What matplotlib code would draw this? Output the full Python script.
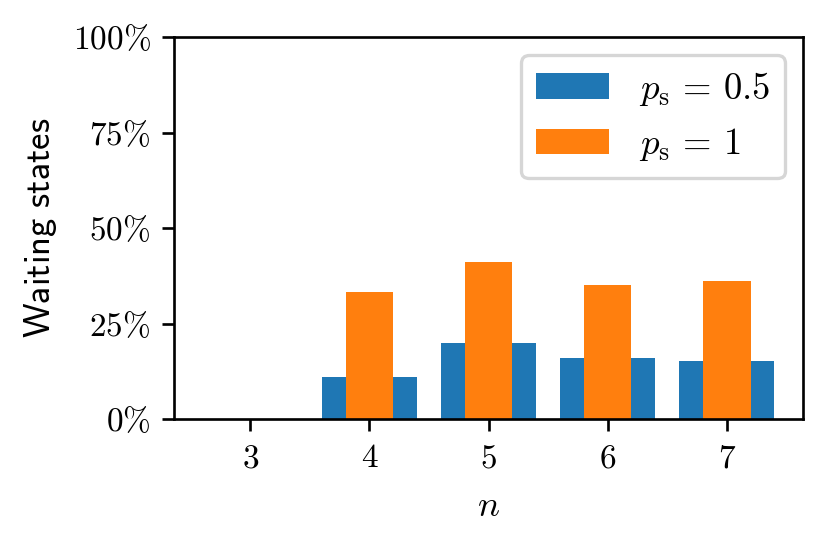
import matplotlib
matplotlib.use('Agg')
import matplotlib.pyplot as plt
import numpy as np

plt.rcParams['mathtext.fontset'] = 'cm'
plt.rcParams['font.family'] = 'serif'
plt.rcParams['font.serif'] = ['DejaVu Serif']
plt.rcParams['font.size'] = 10

n_values = [3, 4, 5, 6, 7]
waiting_ps05 = [0.0, 11.0, 19.9, 16.0, 15.2]
waiting_ps1 = [0.0, 33.2, 41.1, 35.1, 36.1]
y_ticks = [0, 25, 50, 75, 100]

fig, ax = plt.subplots(figsize=(829 / 240, 545 / 240), dpi=240)
ax.bar(n_values, waiting_ps05, width=0.8, color='#1f77b4', label=r'$p_\mathrm{s}\,=\,0.5$')
ax.bar(n_values, waiting_ps1, width=0.4, color='#ff7f0e', label=r'$p_\mathrm{s}\,=\,1$')

ax.set_ylim(0, 100)
ax.set_yticks(y_ticks)
ax.set_yticklabels([rf'${t}\%$' for t in y_ticks])
ax.set_xticks(n_values)
ax.set_xticklabels([rf'${n}$' for n in n_values])
ax.set_xlabel(r'$n$', fontsize=11)
ax.set_ylabel(r'$\mathsf{Waiting\ states}$', fontsize=11)
ax.legend(loc='upper right', fontsize=11)

fig.subplots_adjust(left=174 / 829, right=803 / 829, top=1 - 37 / 545, bottom=1 - 419 / 545)
fig.savefig('out.png', dpi=240)
